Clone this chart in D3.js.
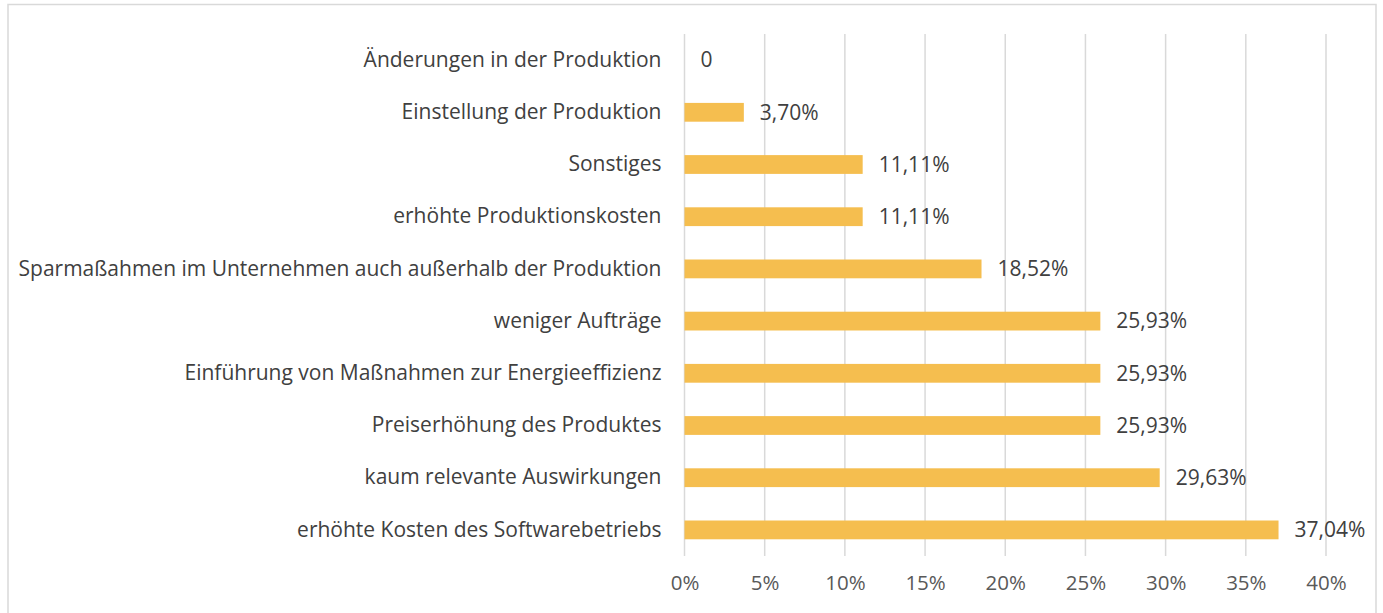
<!DOCTYPE html>
<html>
<head>
<meta charset="utf-8">
<script src="https://cdn.jsdelivr.net/npm/d3@7"></script>
<style>
  body { margin: 0; background: #fff; }
  svg { display: block; }
</style>
</head>
<body>
<svg id="chart" width="1383" height="613"></svg>
<script>
// Kategorien von oben nach unten
const categories = [
  "Änderungen in der Produktion",
  "Einstellung der Produktion",
  "Sonstiges",
  "erhöhte Produktionskosten",
  "Sparmaßahmen im Unternehmen auch außerhalb der Produktion",
  "weniger Aufträge",
  "Einführung von Maßnahmen zur Energieeffizienz",
  "Preiserhöhung des Produktes",
  "kaum relevante Auswirkungen",
  "erhöhte Kosten des Softwarebetriebs"
];
const values = [0, 3.70, 11.11, 11.11, 18.52, 25.93, 25.93, 25.93, 29.63, 37.04];
const valueLabels = ["0", "3,70%", "11,11%", "11,11%", "18,52%", "25,93%", "25,93%", "25,93%", "29,63%", "37,04%"];
const ticks = [0, 5, 10, 15, 20, 25, 30, 35, 40];

const svg = d3.select("#chart");
const W = 1383, H = 613;
const margin = { top: 34, bottom: 57, left: 684.5, right: 57 };
const font = "Open Sans, sans-serif";

// Rahmen
svg.append("rect")
  .attr("x", 8).attr("y", 4.5)
  .attr("width", 1368).attr("height", 640)
  .attr("fill", "#fff")
  .attr("stroke", "#d9d9d9")
  .attr("stroke-width", 1.5);

const x = d3.scaleLinear().domain([0, 40]).range([margin.left, W - margin.right]);
const y = d3.scaleBand().domain(categories).range([margin.top, H - margin.bottom]).paddingInner(0.64).paddingOuter(0.32);

// Gitterlinien
svg.append("g")
  .selectAll("line")
  .data(ticks)
  .enter()
  .append("line")
  .attr("x1", d => x(d)).attr("x2", d => x(d))
  .attr("y1", margin.top).attr("y2", H - margin.bottom)
  .attr("stroke", "#d9d9d9")
  .attr("stroke-width", 1.5);

// Balken
svg.append("g")
  .selectAll("rect")
  .data(values)
  .enter()
  .append("rect")
  .attr("x", x(0))
  .attr("y", (d, i) => y(categories[i]))
  .attr("width", d => x(d) - x(0))
  .attr("height", y.bandwidth())
  .attr("fill", "#F5BE4F");

// Werte
svg.append("g")
  .selectAll("text")
  .data(values)
  .enter()
  .append("text")
  .attr("x", d => x(d) + 16)
  .attr("y", (d, i) => y(categories[i]) + y.bandwidth() / 2)
  .attr("dy", "0.35em")
  .attr("font-family", font)
  .attr("font-size", 21)
  .attr("fill", "#404040")
  .text((d, i) => valueLabels[i]);

// y-Achse Beschriftungen
const yAxis = d3.axisLeft(y).tickSize(0).tickPadding(23);
const gy = svg.append("g")
  .attr("transform", `translate(${margin.left}, 0)`)
  .call(yAxis);
gy.select(".domain").remove();
gy.selectAll("text")
  .attr("font-family", font)
  .attr("font-size", 21)
  .attr("fill", "#404040");

// x-Achse
const xAxis = d3.axisBottom(x).tickValues(ticks).tickSize(0).tickPadding(19).tickFormat(d => d + "%");
const gx = svg.append("g")
  .attr("transform", `translate(0, ${H - margin.bottom})`)
  .call(xAxis);
gx.select(".domain").remove();
gx.selectAll("text")
  .attr("font-family", font)
  .attr("font-size", 20.5)
  .attr("fill", "#595959");
</script>
</body>
</html>
